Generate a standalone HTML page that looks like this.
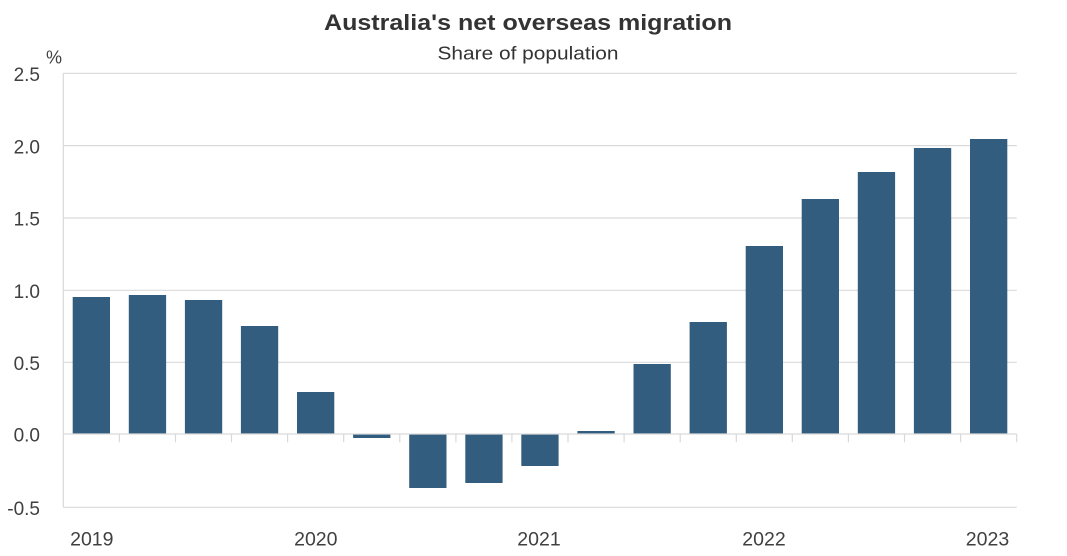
<!DOCTYPE html>
<html>
<head>
<meta charset="utf-8">
<style>
  html,body{margin:0;padding:0;background:#fff;}
  svg{display:block;}
  text{font-family:"Liberation Sans",sans-serif;}
</style>
</head>
<body>
<svg width="1067" height="556" viewBox="0 0 1067 556" xmlns="http://www.w3.org/2000/svg">
  <rect width="1067" height="556" fill="#fff"/>
  <!-- Title -->
  <text x="528" y="30" text-anchor="middle" font-size="22" font-weight="bold" fill="#333" textLength="408" lengthAdjust="spacingAndGlyphs">Australia's net overseas migration</text>
  <text x="528" y="59.5" text-anchor="middle" font-size="18" fill="#333" textLength="181" lengthAdjust="spacingAndGlyphs">Share of population</text>

  <!-- gridlines -->
  <g stroke="#d9d9d9" stroke-width="1.2">
    <line x1="63.3" y1="73.3" x2="1016.7" y2="73.3"/>
    <line x1="63.3" y1="145.6" x2="1016.7" y2="145.6"/>
    <line x1="63.3" y1="218" x2="1016.7" y2="218"/>
    <line x1="63.3" y1="290.3" x2="1016.7" y2="290.3"/>
    <line x1="63.3" y1="362.3" x2="1016.7" y2="362.3"/>
    <line x1="63.3" y1="507.3" x2="1016.7" y2="507.3"/>
    <line x1="63.3" y1="73.3" x2="63.3" y2="507.3"/>
  </g>

  <!-- bars -->
  <g fill="#335d7e">
    <rect x="72.7" y="297" width="37.3" height="137"/>
    <rect x="128.8" y="295" width="37.3" height="139"/>
    <rect x="184.9" y="300" width="37.3" height="134"/>
    <rect x="240.9" y="326" width="37.3" height="108"/>
    <rect x="297" y="392" width="37.3" height="42"/>
    <rect x="353.1" y="434" width="37.3" height="4"/>
    <rect x="409.2" y="434" width="37.3" height="54"/>
    <rect x="465.3" y="434" width="37.3" height="49"/>
    <rect x="521.3" y="434" width="37.3" height="32"/>
    <rect x="577.4" y="431" width="37.3" height="3"/>
    <rect x="633.5" y="364" width="37.3" height="70"/>
    <rect x="689.6" y="322" width="37.3" height="112"/>
    <rect x="745.7" y="246" width="37.3" height="188"/>
    <rect x="801.7" y="199" width="37.3" height="235"/>
    <rect x="857.8" y="172" width="37.3" height="262"/>
    <rect x="913.9" y="148" width="37.3" height="286"/>
    <rect x="970" y="139" width="37.3" height="295"/>
  </g>

  <!-- zero axis and ticks -->
  <g stroke="#d9d9d9" stroke-width="1.2">
    <line x1="63.3" y1="434" x2="1016.7" y2="434"/>
    <line x1="119.4" y1="434" x2="119.4" y2="442.3"/>
    <line x1="175.5" y1="434" x2="175.5" y2="442.3"/>
    <line x1="231.5" y1="434" x2="231.5" y2="442.3"/>
    <line x1="287.6" y1="434" x2="287.6" y2="442.3"/>
    <line x1="343.7" y1="434" x2="343.7" y2="442.3"/>
    <line x1="399.8" y1="434" x2="399.8" y2="442.3"/>
    <line x1="455.9" y1="434" x2="455.9" y2="442.3"/>
    <line x1="511.9" y1="434" x2="511.9" y2="442.3"/>
    <line x1="568" y1="434" x2="568" y2="442.3"/>
    <line x1="624.1" y1="434" x2="624.1" y2="442.3"/>
    <line x1="680.2" y1="434" x2="680.2" y2="442.3"/>
    <line x1="736.3" y1="434" x2="736.3" y2="442.3"/>
    <line x1="792.3" y1="434" x2="792.3" y2="442.3"/>
    <line x1="848.4" y1="434" x2="848.4" y2="442.3"/>
    <line x1="904.5" y1="434" x2="904.5" y2="442.3"/>
    <line x1="960.6" y1="434" x2="960.6" y2="442.3"/>
    <line x1="1016.7" y1="434" x2="1016.7" y2="442.3"/>
  </g>

  <!-- y labels -->
  <g font-size="19" fill="#404040" text-anchor="end">
    <text x="40" y="81">2.5</text>
    <text x="40" y="153.3">2.0</text>
    <text x="40" y="225.6">1.5</text>
    <text x="40" y="298">1.0</text>
    <text x="40" y="370">0.5</text>
    <text x="40" y="441.7">0.0</text>
    <text x="40" y="515">-0.5</text>
  </g>
  <text x="46" y="63.3" font-size="18" fill="#404040">%</text>

  <!-- x labels -->
  <g font-size="19.5" fill="#404040" text-anchor="middle">
    <text x="91.8" y="545.7">2019</text>
    <text x="315.8" y="545.7">2020</text>
    <text x="539" y="545.7">2021</text>
    <text x="764" y="545.7">2022</text>
    <text x="987.5" y="545.7">2023</text>
  </g>
</svg>
</body>
</html>
